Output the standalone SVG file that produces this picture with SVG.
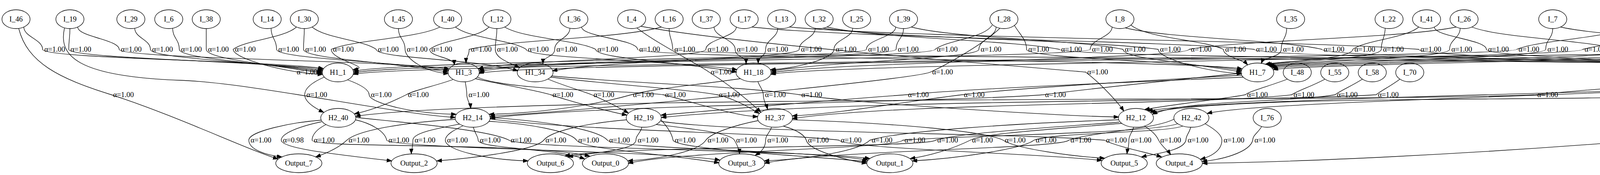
<svg xmlns="http://www.w3.org/2000/svg" width="5492" height="447" viewBox="0 0 5492 447">
<style>
text{font-family:"Liberation Serif","Times New Roman",serif;font-size:18.67px;text-anchor:middle;fill:#000}
.node ellipse,.node rect,.node line{fill:none;stroke:#000;stroke-width:1.33}
.edge path{fill:none;stroke:#000;stroke-width:1.33;marker-end:url(#arr)}
</style>
<defs>
<marker id="arr" viewBox="0 0 14 10" markerWidth="14" markerHeight="10" refX="13" refY="4.7" orient="auto" markerUnits="userSpaceOnUse"><path d="M0,0 L13,4.7 L0,9.4 z" fill="#000" stroke="#000" stroke-width="1"/></marker>
</defs>
<rect x="0" y="0" width="5492" height="447" fill="#fff"/>
<g id="connectors">
<g class="edge" id="e_I_46_H1_1"><path d="M61,69 C61,94 109,101 109,126 C109,150 678,154 828,175"/><text x="140" y="132">α=1.00</text></g>
<g class="edge" id="e_I_19_H1_1"><path d="M179,73 C179,98 176,101 176,126 C176,150 677,156 827,178"/><text x="207" y="132">α=1.00</text></g>
<g class="edge" id="e_I_19_H1_3"><path d="M199,69 C199,94 305,101 305,126 C305,150 1000,154 1150,176"/><text x="336" y="132">α=1.00</text></g>
<g class="edge" id="e_I_29_H1_1"><path d="M345,72 C345,97 385,101 385,126 C385,150 676,158 826,181"/><text x="416" y="132">α=1.00</text></g>
<g class="edge" id="e_I_6_H1_1"><path d="M442,72 C442,97 459,101 459,126 C459,150 675,160 825,184"/><text x="490" y="132">α=1.00</text></g>
<g class="edge" id="e_I_38_H1_1"><path d="M528,73 C528,98 528,101 528,126 C528,150 675,162 825,187"/><text x="559" y="132">α=1.00</text></g>
<g class="edge" id="e_I_30_H1_1"><path d="M759,69 C727,98 629,102 597,126 C597,150 734,187 826,190"/><text x="628" y="132">α=1.00</text></g>
<g class="edge" id="e_I_14_H1_3"><path d="M694,72 C694,97 708,101 708,126 C708,150 999,156 1149,180"/><text x="739" y="132">α=1.00</text></g>
<g class="edge" id="e_I_30_H1_3"><path d="M779,73 C779,98 777,101 777,126 C777,150 997,158 1147,184"/><text x="808" y="132">α=1.00</text></g>
<g class="edge" id="e_I_40_H1_1"><path d="M1126,69 C1070,98 904,102 848,126 C848,155 960,172 903,178"/><text x="879" y="132">α=1.00</text></g>
<g class="edge" id="e_I_30_H1_34"><path d="M799,69 C832,98 930,102 963,126 C963,150 1226,150 1326,181"/><text x="994" y="132">α=1.00</text></g>
<g class="edge" id="e_I_45_H1_3"><path d="M1020,73 C1020,98 1037,101 1037,126 C1037,150 1088,184 1148,188"/><text x="1068" y="132">α=1.00</text></g>
<g class="edge" id="e_I_12_H1_3"><path d="M1252,69 C1222,98 1130,102 1100,126 C1100,146 1163,146 1163,166"/><text x="1131" y="132">α=1.00</text></g>
<g class="edge" id="e_I_16_H1_3"><path d="M1693,69 C1595,98 1299,102 1201,126 C1201,146 1193,141 1193,161"/><text x="1232" y="132">α=1.00</text></g>
<g class="edge" id="e_I_12_H1_34"><path d="M1272,73 C1272,98 1268,101 1268,126 C1268,150 1305,160 1330,173"/><text x="1299" y="132">α=1.00</text></g>
<g class="edge" id="e_I_40_H1_18"><path d="M1166,69 C1202,98 1311,102 1347,126 C1347,150 1737,155 1887,178"/><text x="1378" y="132">α=1.00</text></g>
<g class="edge" id="e_I_36_H1_34"><path d="M1459,72 C1459,97 1420,101 1420,126 C1420,146 1390,143 1390,163"/><text x="1451" y="132">α=1.00</text></g>
<g class="edge" id="e_I_12_H1_18"><path d="M1292,69 C1339,98 1478,102 1525,126 C1525,150 1736,157 1886,184"/><text x="1556" y="132">α=1.00</text></g>
<g class="edge" id="e_I_36_H1_7"><path d="M1489,69 C1489,94 1632,101 1632,126 C1632,150 3030,152 3180,176"/><text x="1663" y="132">α=1.00</text></g>
<g class="edge" id="e_I_16_H1_43"><path d="M1713,73 C1713,98 1722,101 1722,126 C1722,150 4458,150 4608,174"/><text x="1753" y="132">α=1.00</text></g>
<g class="edge" id="e_I_17_H1_3"><path d="M1885,69 C1885,94 1807,101 1807,126 C1807,150 1310,152 1224,176"/><text x="1838" y="132">α=1.00</text></g>
<g class="edge" id="e_I_37_H1_18"><path d="M1828,69 C1828,94 1882,101 1882,126 C1882,146 1910,143 1910,163"/><text x="1913" y="132">α=1.00</text></g>
<g class="edge" id="e_I_13_H1_18"><path d="M1991,72 C1991,97 1960,101 1960,126 C1960,146 1941,142 1941,162"/><text x="1991" y="132">α=1.00</text></g>
<g class="edge" id="e_I_32_H1_34"><path d="M2087,72 C2087,97 2046,101 2046,126 C2046,150 1564,153 1414,181"/><text x="2077" y="132">α=1.00</text></g>
<g class="edge" id="e_I_25_H1_18"><path d="M2183,72 C2183,97 2135,101 2135,126 C2135,150 2037,175 1972,178"/><text x="2166" y="132">α=1.00</text></g>
<g class="edge" id="e_I_39_H1_1"><path d="M2293,69 C2293,94 2218,101 2218,126 C2218,150 1025,155 905,182"/><text x="2249" y="132">α=1.00</text></g>
<g class="edge" id="e_I_39_H1_3"><path d="M2313,73 C2313,98 2294,101 2294,126 C2294,150 1310,152 1226,180"/><text x="2325" y="132">α=1.00</text></g>
<g class="edge" id="e_I_28_H1_3"><path d="M2540,64 C2519,98 2425,102 2394,126 C2394,150 1310,152 1227,184"/><text x="2425" y="132">α=1.00</text></g>
<g class="edge" id="e_I_28_H1_18"><path d="M2550,69 C2550,94 2506,101 2506,126 C2506,150 2124,156 1974,182"/><text x="2537" y="132">α=1.00</text></g>
<g class="edge" id="e_I_28_H1_7"><path d="M2597,65 C2612,90 2628,101 2628,126 C2628,150 3029,154 3179,180"/><text x="2659" y="132">α=1.00</text></g>
<g class="edge" id="e_I_32_H1_43"><path d="M2117,69 C2240,98 2589,102 2712,126 C2712,150 4456,151 4606,177"/><text x="2743" y="132">α=1.00</text></g>
<g class="edge" id="e_I_8_H1_1"><path d="M2847,69 C2847,94 2791,101 2791,126 C2791,150 1025,157 905,186"/><text x="2822" y="132">α=1.00</text></g>
<g class="edge" id="e_I_39_H1_7"><path d="M2333,69 C2441,98 2767,102 2875,126 C2875,150 3028,157 3178,184"/><text x="2906" y="132">α=1.00</text></g>
<g class="edge" id="e_I_32_H1_7"><path d="M2107,72 C2279,98 2793,102 2965,126 C2965,150 3093,185 3179,188"/><text x="2996" y="132">α=1.00</text></g>
<g class="edge" id="e_I_26_H1_18"><path d="M3728,69 C3591,98 3181,102 3044,126 C3044,150 2124,158 1974,186"/><text x="3075" y="132">α=1.00</text></g>
<g class="edge" id="e_I_8_H1_7"><path d="M2895,64 C2936,98 3083,102 3132,126 C3132,146 3180,150 3194,166"/><text x="3163" y="132">α=1.00</text></g>
<g class="edge" id="e_I_17_H1_43"><path d="M1925,69 C2186,98 2950,102 3211,126 C3211,150 4455,152 4605,179"/><text x="3242" y="132">α=1.00</text></g>
<g class="edge" id="e_I_35_H1_7"><path d="M3294,72 C3294,97 3280,101 3280,126 C3280,146 3235,145 3229,162"/><text x="3311" y="132">α=1.00</text></g>
<g class="edge" id="e_I_8_H1_43"><path d="M2880,71 C2986,98 3285,102 3384,126 C3384,150 4454,153 4604,182"/><text x="3415" y="132">α=1.00</text></g>
<g class="edge" id="e_I_41_H1_7"><path d="M3632,69 C3598,98 3497,102 3463,126 C3463,150 3299,155 3239,164"/><text x="3494" y="132">α=1.00</text></g>
<g class="edge" id="e_I_22_H1_7"><path d="M3546,72 C3546,97 3536,101 3536,126 C3536,150 3303,156 3243,165"/><text x="3567" y="132">α=1.00</text></g>
<g class="edge" id="e_I_13_H1_43"><path d="M2021,69 C2343,98 3310,102 3632,126 C3632,150 4453,155 4603,184"/><text x="3663" y="132">α=1.00</text></g>
<g class="edge" id="e_I_26_H1_7"><path d="M3738,72 C3738,97 3711,101 3711,126 C3711,150 3327,156 3247,167"/><text x="3742" y="132">α=1.00</text></g>
<g class="edge" id="e_I_41_H1_43"><path d="M3672,69 C3672,94 3805,101 3805,126 C3805,150 4453,157 4603,187"/><text x="3836" y="132">α=1.00</text></g>
<g class="edge" id="e_I_5_H1_1"><path d="M4170,69 C4113,98 3940,102 3883,126 C3883,150 1025,158 904,190"/><text x="3914" y="132">α=1.00</text></g>
<g class="edge" id="e_I_7_H1_7"><path d="M3975,73 C3975,98 3957,101 3957,126 C3957,150 3330,157 3250,169"/><text x="3988" y="132">α=1.00</text></g>
<g class="edge" id="e_I_15_H1_18"><path d="M4472,64 C4394,98 4138,102 4052,126 C4052,150 2123,160 1973,190"/><text x="4083" y="132">α=1.00</text></g>
<g class="edge" id="e_I_26_H1_43"><path d="M3768,69 C3842,98 4066,102 4140,126 C4140,150 4454,158 4604,189"/><text x="4171" y="132">α=1.00</text></g>
<g class="edge" id="e_I_11_H1_7"><path d="M4296,69 C4296,94 4219,101 4219,126 C4219,150 3333,158 3253,171"/><text x="4250" y="132">α=1.00</text></g>
<g class="edge" id="e_I_5_H1_43"><path d="M4210,69 C4210,94 4308,101 4308,126 C4308,150 4486,189 4605,192"/><text x="4339" y="132">α=1.00</text></g>
<g class="edge" id="e_I_15_H1_7"><path d="M4480,69 C4480,94 4393,101 4393,126 C4393,150 3336,160 3256,174"/><text x="4424" y="132">α=1.00</text></g>
<g class="edge" id="e_I_44_H1_3"><path d="M4681,69 C4640,98 4517,102 4476,126 C4476,150 1310,153 1226,188"/><text x="4507" y="132">α=1.00</text></g>
<g class="edge" id="e_I_33_H1_7"><path d="M4985,69 C4899,98 4641,102 4555,126 C4555,150 3339,162 3259,178"/><text x="4586" y="132">α=1.00</text></g>
<g class="edge" id="e_I_7_H1_43"><path d="M3995,69 C4122,98 4503,102 4630,126 C4630,146 4641,141 4641,161"/><text x="4661" y="132">α=1.00</text></g>
<g class="edge" id="e_I_15_H1_43"><path d="M4520,69 C4556,98 4666,102 4702,126 C4702,146 4680,150 4670,164"/><text x="4733" y="132">α=1.00</text></g>
<g class="edge" id="e_I_11_H1_43"><path d="M4336,69 C4427,98 4698,102 4789,126 C4789,150 4730,173 4690,176"/><text x="4820" y="132">α=1.00</text></g>
<g class="edge" id="e_I_44_H1_43"><path d="M4721,69 C4752,98 4847,102 4878,126 C4878,150 4766,176 4692,179"/><text x="4909" y="132">α=1.00</text></g>
<g class="edge" id="e_I_33_H1_43"><path d="M4995,72 C4995,97 4958,101 4958,126 C4958,150 4799,179 4693,182"/><text x="4989" y="132">α=1.00</text></g>
<g class="edge" id="e_I_34_H1_43"><path d="M5091,72 C5091,97 5042,101 5042,126 C5042,150 4843,158 4693,185"/><text x="5073" y="132">α=1.00</text></g>
<g class="edge" id="e_I_43_H1_43"><path d="M5177,69 C5177,94 5129,101 5129,126 C5129,150 4843,160 4693,188"/><text x="5160" y="132">α=1.00</text></g>
<g class="edge" id="e_I_18_H1_43"><path d="M5318,69 C5318,94 5234,101 5234,126 C5234,150 4842,162 4692,191"/><text x="5265" y="132">α=1.00</text></g>
<g class="edge" id="e_I_19_H2_14"><path d="M165,72 C150,140 190,195 460,205 C650,212 1000,290 1166,300"/><text x="786" y="190">α=1.00</text></g>
<g class="edge" id="e_I_4_H2_37"><path d="M1630,71 C1680,110 1780,160 1815,184 C1880,225 1925,265 1948,287"/><text x="1846" y="190">α=1.00</text></g>
<g class="edge" id="e_I_28_H2_14"><path d="M2560,72 C2516,114 2416,169 2382,184 C2340,205 1404,290 1254,297"/><text x="2413" y="190">α=1.00</text></g>
<g class="edge" id="e_I_4_H2_12"><path d="M1640,67 C1868,110 2551,165 2779,184 C2820,215 2865,265 2877,284"/><text x="2810" y="190">α=1.00</text></g>
<g class="edge" id="e_I_15_H2_42"><path d="M4533,60 C4650,95 4880,95 4828,184 C4768,234 3250,250 3090,290"/><text x="4859" y="190">α=1.00</text></g>
<g class="edge" id="e_I_33_H2_12"><path d="M5035,62 C5100,85 5210,95 5165,184 C5120,225 3200,240 2938,283"/><text x="5196" y="190">α=1.00</text></g>
<g class="edge" id="e_I_46_Output_7"><path d="M48,73 C70,160 150,200 285,242 C450,295 640,385 712,406"/><text x="316" y="248">α=1.00</text></g>
<g class="edge" id="e_H1_1_H2_40"><path d="M830,197 C800,210 780,225 780,242 C780,262 810,278 829,287"/><text x="811" y="248">α=1.00</text></g>
<g class="edge" id="e_H1_1_H2_14"><path d="M890,204 C920,215 945,228 945,242 C945,262 1050,290 1168,292"/><text x="976" y="248">α=1.00</text></g>
<g class="edge" id="e_H1_3_H2_40"><path d="M1160,203 C1120,218 1060,230 1040,242 C1000,262 950,282 907,291"/><text x="1071" y="248">α=1.00</text></g>
<g class="edge" id="e_H1_3_H2_14"><path d="M1191,209 C1193,222 1195,230 1195,242 C1195,255 1204,265 1205,277"/><text x="1226" y="248">α=1.00</text></g>
<g class="edge" id="e_H1_3_H2_19"><path d="M1217,201 C1280,215 1380,232 1410,242 C1470,262 1560,285 1605,294"/><text x="1441" y="248">α=1.00</text></g>
<g class="edge" id="e_H1_34_H2_19"><path d="M1403,202 C1440,218 1490,232 1515,242 C1545,255 1580,272 1609,289"/><text x="1546" y="248">α=1.00</text></g>
<g class="edge" id="e_H1_18_H2_14"><path d="M1895,201 C1800,215 1680,225 1616,242 C1500,275 1350,290 1252,292"/><text x="1647" y="248">α=1.00</text></g>
<g class="edge" id="e_H1_3_H2_37"><path d="M1222,197 C1300,232 1600,230 1698,242 C1780,262 1880,296 1940,298"/><text x="1729" y="248">α=1.00</text></g>
<g class="edge" id="e_H1_34_H2_37"><path d="M1410,197 C1550,215 1760,228 1836,242 C1880,252 1920,275 1944,290"/><text x="1867" y="248">α=1.00</text></g>
<g class="edge" id="e_H1_18_H2_37"><path d="M1940,208 C1945,222 1954,230 1954,242 C1954,258 1962,268 1965,279"/><text x="1985" y="248">α=1.00</text></g>
<g class="edge" id="e_H1_34_H2_12"><path d="M1412,194 C1600,212 1900,220 2047,242 C2200,265 2700,295 2864,299"/><text x="2078" y="248">α=1.00</text></g>
<g class="edge" id="e_H1_7_H2_19"><path d="M3183,197 C2900,210 2500,225 2320,242 C2100,258 1850,280 1692,294"/><text x="2351" y="248">α=1.00</text></g>
<g class="edge" id="e_H1_7_H2_37"><path d="M3179,192 C2950,205 2600,225 2463,242 C2300,262 2150,290 2028,296"/><text x="2494" y="248">α=1.00</text></g>
<g class="edge" id="e_H1_7_H2_14"><path d="M3177,187 C3000,205 2800,225 2671,242 C2400,262 1500,268 1255,302"/><text x="2702" y="248">α=1.00</text></g>
<g class="edge" id="e_I_48_H2_12"><path d="M3296,202 C3250,220 3200,232 3188,242 C3120,255 3010,265 2930,280"/><text x="3219" y="248">α=1.00</text></g>
<g class="edge" id="e_I_55_H2_37"><path d="M3392,202 C3360,220 3320,232 3307,242 C3100,268 2300,262 2028,303"/><text x="3338" y="248">α=1.00</text></g>
<g class="edge" id="e_I_58_H2_12"><path d="M3488,202 C3460,220 3430,232 3418,242 C3300,262 3030,255 2950,292"/><text x="3449" y="248">α=1.00</text></g>
<g class="edge" id="e_I_70_H2_19"><path d="M3584,202 C3560,220 3535,232 3523,242 C3200,262 2200,250 1693,300"/><text x="3554" y="248">α=1.00</text></g>
<g class="edge" id="e_H1_43_H2_40"><path d="M4604,192 C4400,205 4100,225 3931,242 C3500,262 1300,240 910,297"/><text x="3962" y="248">α=1.00</text></g>
<g class="edge" id="e_H1_43_H2_12"><path d="M4612,199 C4500,215 4400,230 4347,242 C4000,262 3200,240 2945,287"/><text x="4378" y="248">α=1.00</text></g>
<g class="edge" id="e_I_18_Output_4"><path d="M5335,73 C5300,160 5250,205 5140,242 C4700,340 3600,410 3078,417"/><text x="5184" y="248">α=0.82</text></g>
<g class="edge" id="e_H2_40_Output_7"><path d="M822,307 C750,312 637,335 637,358 C637,382 680,396 722,401"/><text x="668" y="364">α=1.00</text></g>
<g class="edge" id="e_H2_40_Output_2"><path d="M823,311 C770,322 720,340 720,358 C720,382 900,398 1003,411"/><text x="751" y="364">α=0.98</text></g>
<g class="edge" id="e_H2_40_Output_0"><path d="M835,318 C810,330 799,345 799,358 C799,380 1350,362 1510,399"/><text x="830" y="364">α=1.00</text></g>
<g class="edge" id="e_H2_14_Output_7"><path d="M1166,305 C1050,312 920,330 888,358 C870,375 840,390 808,401"/><text x="919" y="364">α=1.00</text></g>
<g class="edge" id="e_H2_40_Output_3"><path d="M910,306 C950,315 985,335 990,358 C1000,380 1700,385 1843,409"/><text x="1021" y="364">α=1.00</text></g>
<g class="edge" id="e_H2_14_Output_2"><path d="M1176,317 C1110,330 1057,340 1057,358 C1057,375 1053,385 1053,393"/><text x="1088" y="364">α=1.00</text></g>
<g class="edge" id="e_H2_14_Output_6"><path d="M1186,321 C1160,333 1140,345 1140,358 C1140,385 1250,408 1352,411"/><text x="1171" y="364">α=1.00</text></g>
<g class="edge" id="e_H2_14_Output_0"><path d="M1212,325 C1215,340 1224,348 1224,358 C1224,380 1420,378 1497,406"/><text x="1255" y="364">α=1.00</text></g>
<g class="edge" id="e_H2_40_Output_1"><path d="M911,300 C1000,310 1250,330 1303,358 C1330,380 2071,384 2227,405"/><text x="1334" y="364">α=1.00</text></g>
<g class="edge" id="e_H2_19_Output_2"><path d="M1604,306 C1500,315 1410,335 1392,358 C1370,385 1200,405 1118,411"/><text x="1423" y="364">α=1.00</text></g>
<g class="edge" id="e_H2_14_Output_3"><path d="M1252,310 C1350,315 1460,335 1476,358 C1490,382 1700,392 1841,416"/><text x="1507" y="364">α=1.00</text></g>
<g class="edge" id="e_H2_19_Output_6"><path d="M1643,325 C1640,340 1628,345 1628,358 C1628,385 1500,392 1454,401"/><text x="1659" y="364">α=1.00</text></g>
<g class="edge" id="e_H2_14_Output_1"><path d="M1255,300 C1400,310 1530,330 1555,358 C1570,380 2072,384 2222,409"/><text x="1586" y="364">α=1.00</text></g>
<g class="edge" id="e_H2_19_Output_1"><path d="M1692,306 C1705,320 1720,340 1723,358 C1728,382 2100,400 2220,413"/><text x="1754" y="364">α=1.00</text></g>
<g class="edge" id="e_H2_37_Output_0"><path d="M1941,308 C1880,320 1820,340 1807,358 C1790,385 1700,405 1607,411"/><text x="1838" y="364">α=1.00</text></g>
<g class="edge" id="e_H2_19_Output_3"><path d="M1680,318 C1780,330 1870,340 1880,358 C1890,375 1893,385 1893,393"/><text x="1911" y="364">α=1.00</text></g>
<g class="edge" id="e_H2_37_Output_3"><path d="M1975,325 C1970,340 1960,345 1960,358 C1960,380 1945,390 1933,397"/><text x="1991" y="364">α=1.00</text></g>
<g class="edge" id="e_H2_37_Output_1"><path d="M2005,322 C2040,332 2060,345 2064,358 C2070,385 2170,410 2219,417"/><text x="2095" y="364">α=1.00</text></g>
<g class="edge" id="e_H2_14_Output_5"><path d="M1255,304 C1500,335 2000,340 2148,358 C2160,380 2670,392 2821,410"/><text x="2179" y="364">α=1.00</text></g>
<g class="edge" id="e_H2_12_Output_3"><path d="M2864,306 C2600,315 2300,335 2227,358 C2200,385 2080,405 1956,411"/><text x="2258" y="364">α=1.00</text></g>
<g class="edge" id="e_H2_42_Output_0"><path d="M3015,316 C2950,340 2500,345 2311,358 C2300,380 1758,384 1608,417"/><text x="2342" y="364">α=1.00</text></g>
<g class="edge" id="e_H2_12_Output_6"><path d="M2865,312 C2700,325 2450,340 2395,358 C2380,378 1600,372 1446,398"/><text x="2426" y="364">α=1.00</text></g>
<g class="edge" id="e_H2_12_Output_1"><path d="M2872,315 C2700,330 2520,340 2484,358 C2440,380 2380,398 2330,405"/><text x="2515" y="364">α=1.00</text></g>
<g class="edge" id="e_H2_37_Output_5"><path d="M2028,306 C2300,315 2520,335 2568,358 C2600,380 2750,400 2828,404"/><text x="2599" y="364">α=1.00</text></g>
<g class="edge" id="e_H2_42_Output_1"><path d="M3028,322 C2980,340 2700,338 2647,358 C2620,380 2450,405 2335,411"/><text x="2678" y="364">α=1.00</text></g>
<g class="edge" id="e_H2_19_Output_4"><path d="M1692,310 C1900,340 2600,340 2827,358 C2860,375 2940,390 2974,401"/><text x="2858" y="364">α=1.00</text></g>
<g class="edge" id="e_H2_42_Output_3"><path d="M3006,304 C2960,330 2780,340 2736,358 C2720,380 2107,384 1957,417"/><text x="2767" y="364">α=1.00</text></g>
<g class="edge" id="e_H2_12_Output_5"><path d="M2902,325 C2898,340 2890,345 2890,358 C2890,375 2886,385 2885,393"/><text x="2921" y="364">α=1.00</text></g>
<g class="edge" id="e_H2_12_Output_4"><path d="M2930,322 C2950,335 2960,345 2966,358 C2975,375 2990,385 2997,395"/><text x="2997" y="364">α=1.00</text></g>
<g class="edge" id="e_H2_42_Output_5"><path d="M3048,325 C3045,340 3036,345 3036,358 C3030,385 2960,392 2922,401"/><text x="3067" y="364">α=1.00</text></g>
<g class="edge" id="e_H2_42_Output_4"><path d="M3085,316 C3110,330 3128,345 3128,358 C3128,385 3100,400 3073,407"/><text x="3159" y="364">α=1.00</text></g>
<g class="edge" id="e_I_76_Output_4"><path d="M3230,323 C3220,340 3207,345 3207,358 C3200,390 3120,410 3077,412"/><text x="3238" y="364">α=1.00</text></g>
</g>
<g id="I_46" class="node"><ellipse cx="41" cy="49" rx="36" ry="24"/><text x="41" y="55">I_46</text></g>
<g id="I_19" class="node"><ellipse cx="179" cy="49" rx="36" ry="24"/><text x="179" y="55">I_19</text></g>
<g id="I_29" class="node"><ellipse cx="335" cy="49" rx="36" ry="24"/><text x="335" y="55">I_29</text></g>
<g id="I_6" class="node"><ellipse cx="432" cy="49" rx="36" ry="24"/><text x="432" y="55">I_6</text></g>
<g id="I_38" class="node"><ellipse cx="528" cy="49" rx="36" ry="24"/><text x="528" y="55">I_38</text></g>
<g id="I_14" class="node"><ellipse cx="684" cy="49" rx="36" ry="24"/><text x="684" y="55">I_14</text></g>
<g id="I_30" class="node"><ellipse cx="779" cy="49" rx="36" ry="24"/><text x="779" y="55">I_30</text></g>
<g id="I_45" class="node"><ellipse cx="1020" cy="49" rx="36" ry="24"/><text x="1020" y="55">I_45</text></g>
<g id="I_40" class="node"><ellipse cx="1146" cy="49" rx="36" ry="24"/><text x="1146" y="55">I_40</text></g>
<g id="I_12" class="node"><ellipse cx="1272" cy="49" rx="36" ry="24"/><text x="1272" y="55">I_12</text></g>
<g id="I_36" class="node"><ellipse cx="1469" cy="49" rx="36" ry="24"/><text x="1469" y="55">I_36</text></g>
<g id="I_4" class="node"><ellipse cx="1617" cy="49" rx="36" ry="24"/><text x="1617" y="55">I_4</text></g>
<g id="I_16" class="node"><ellipse cx="1713" cy="49" rx="36" ry="24"/><text x="1713" y="55">I_16</text></g>
<g id="I_37" class="node"><ellipse cx="1808" cy="49" rx="36" ry="24"/><text x="1808" y="55">I_37</text></g>
<g id="I_17" class="node"><ellipse cx="1905" cy="49" rx="36" ry="24"/><text x="1905" y="55">I_17</text></g>
<g id="I_13" class="node"><ellipse cx="2001" cy="49" rx="36" ry="24"/><text x="2001" y="55">I_13</text></g>
<g id="I_32" class="node"><ellipse cx="2097" cy="49" rx="36" ry="24"/><text x="2097" y="55">I_32</text></g>
<g id="I_25" class="node"><ellipse cx="2193" cy="49" rx="36" ry="24"/><text x="2193" y="55">I_25</text></g>
<g id="I_39" class="node"><ellipse cx="2313" cy="49" rx="36" ry="24"/><text x="2313" y="55">I_39</text></g>
<g id="I_28" class="node"><ellipse cx="2570" cy="49" rx="36" ry="24"/><text x="2570" y="55">I_28</text></g>
<g id="I_8" class="node"><ellipse cx="2867" cy="49" rx="36" ry="24"/><text x="2867" y="55">I_8</text></g>
<g id="I_35" class="node"><ellipse cx="3304" cy="49" rx="36" ry="24"/><text x="3304" y="55">I_35</text></g>
<g id="I_22" class="node"><ellipse cx="3556" cy="49" rx="36" ry="24"/><text x="3556" y="55">I_22</text></g>
<g id="I_41" class="node"><ellipse cx="3652" cy="49" rx="36" ry="24"/><text x="3652" y="55">I_41</text></g>
<g id="I_26" class="node"><ellipse cx="3748" cy="49" rx="36" ry="24"/><text x="3748" y="55">I_26</text></g>
<g id="I_7" class="node"><ellipse cx="3975" cy="49" rx="36" ry="24"/><text x="3975" y="55">I_7</text></g>
<g id="I_5" class="node"><ellipse cx="4190" cy="49" rx="36" ry="24"/><text x="4190" y="55">I_5</text></g>
<g id="I_11" class="node"><ellipse cx="4316" cy="49" rx="36" ry="24"/><text x="4316" y="55">I_11</text></g>
<g id="I_15" class="node"><ellipse cx="4500" cy="49" rx="36" ry="24"/><text x="4500" y="55">I_15</text></g>
<g id="I_44" class="node"><ellipse cx="4701" cy="49" rx="36" ry="24"/><text x="4701" y="55">I_44</text></g>
<g id="I_33" class="node"><ellipse cx="5005" cy="49" rx="36" ry="24"/><text x="5005" y="55">I_33</text></g>
<g id="I_34" class="node"><ellipse cx="5101" cy="49" rx="36" ry="24"/><text x="5101" y="55">I_34</text></g>
<g id="I_43" class="node"><ellipse cx="5197" cy="49" rx="36" ry="24"/><text x="5197" y="55">I_43</text></g>
<g id="I_18" class="node"><ellipse cx="5338" cy="49" rx="36" ry="24"/><text x="5338" y="55">I_18</text></g>
<g id="All_paths" class="node"><rect x="5399" y="5" width="88" height="88"/><line x1="5399" y1="20" x2="5414" y2="5"/><line x1="5472" y1="5" x2="5487" y2="20"/><line x1="5399" y1="78" x2="5414" y2="93"/><line x1="5472" y1="93" x2="5487" y2="78"/><text x="5443" y="55">All paths</text></g>
<g id="H1_1" class="node"><ellipse cx="865" cy="185" rx="40" ry="24"/><text x="865" y="191">H1_1</text></g>
<g id="H1_3" class="node"><ellipse cx="1187" cy="185" rx="40" ry="24"/><text x="1187" y="191">H1_3</text></g>
<g id="H1_34" class="node"><ellipse cx="1370" cy="185" rx="46" ry="24"/><text x="1370" y="191">H1_34</text></g>
<g id="H1_18" class="node"><ellipse cx="1929" cy="185" rx="45" ry="24"/><text x="1929" y="191">H1_18</text></g>
<g id="H1_7" class="node"><ellipse cx="3219" cy="185" rx="42" ry="24"/><text x="3219" y="191">H1_7</text></g>
<g id="I_48" class="node"><ellipse cx="3321" cy="185" rx="36" ry="24"/><text x="3321" y="191">I_48</text></g>
<g id="I_55" class="node"><ellipse cx="3417" cy="185" rx="36" ry="24"/><text x="3417" y="191">I_55</text></g>
<g id="I_58" class="node"><ellipse cx="3513" cy="185" rx="36" ry="24"/><text x="3513" y="191">I_58</text></g>
<g id="I_70" class="node"><ellipse cx="3609" cy="185" rx="36" ry="24"/><text x="3609" y="191">I_70</text></g>
<g id="H1_43" class="node"><ellipse cx="4648" cy="185" rx="45" ry="24"/><text x="4648" y="191">H1_43</text></g>
<g id="H2_40" class="node"><ellipse cx="866" cy="301" rx="45" ry="24"/><text x="866" y="307">H2_40</text></g>
<g id="H2_14" class="node"><ellipse cx="1210" cy="301" rx="45" ry="24"/><text x="1210" y="307">H2_14</text></g>
<g id="H2_19" class="node"><ellipse cx="1648" cy="301" rx="45" ry="24"/><text x="1648" y="307">H2_19</text></g>
<g id="H2_37" class="node"><ellipse cx="1984" cy="301" rx="45" ry="24"/><text x="1984" y="307">H2_37</text></g>
<g id="H2_12" class="node"><ellipse cx="2908" cy="301" rx="45" ry="24"/><text x="2908" y="307">H2_12</text></g>
<g id="H2_42" class="node"><ellipse cx="3050" cy="301" rx="45" ry="24"/><text x="3050" y="307">H2_42</text></g>
<g id="I_76" class="node"><ellipse cx="3244" cy="301" rx="36" ry="24"/><text x="3244" y="307">I_76</text></g>
<g id="Output_7" class="node"><ellipse cx="765" cy="417" rx="59" ry="24"/><text x="765" y="423">Output_7</text></g>
<g id="Output_2" class="node"><ellipse cx="1060" cy="417" rx="59" ry="24"/><text x="1060" y="423">Output_2</text></g>
<g id="Output_6" class="node"><ellipse cx="1409" cy="417" rx="59" ry="24"/><text x="1409" y="423">Output_6</text></g>
<g id="Output_0" class="node"><ellipse cx="1550" cy="417" rx="59" ry="24"/><text x="1550" y="423">Output_0</text></g>
<g id="Output_3" class="node"><ellipse cx="1899" cy="417" rx="59" ry="24"/><text x="1899" y="423">Output_3</text></g>
<g id="Output_1" class="node"><ellipse cx="2278" cy="417" rx="59" ry="24"/><text x="2278" y="423">Output_1</text></g>
<g id="Output_5" class="node"><ellipse cx="2878" cy="417" rx="59" ry="24"/><text x="2878" y="423">Output_5</text></g>
<g id="Output_4" class="node"><ellipse cx="3019" cy="417" rx="59" ry="24"/><text x="3019" y="423">Output_4</text></g>
</svg>
